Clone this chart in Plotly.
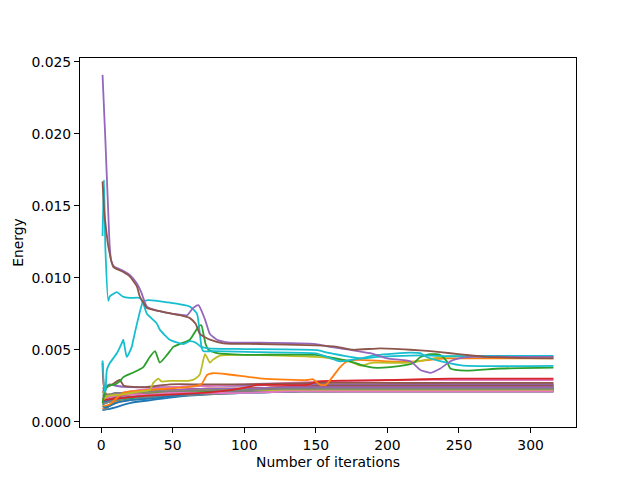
import plotly.graph_objects as go

# tab10 colours
BLUE, ORANGE, GREEN, RED, PURPLE = "#1f77b4", "#ff7f0e", "#2ca02c", "#d62728", "#9467bd"
BROWN, PINK, GRAY, OLIVE, CYAN = "#8c564b", "#e377c2", "#7f7f7f", "#bcbd22", "#17becf"

# ---- low band series (common iteration grid) ----
low_x = [1, 3, 6, 10, 20, 35, 50, 75, 100, 130, 160, 200, 250, 316]
blue1 = [0.0008, 0.00085, 0.0009, 0.0010, 0.0013, 0.0015, 0.0017, 0.0019, 0.0020, 0.0021, 0.0022, 0.0022, 0.0022, 0.0022]
blue2 = [0.0011, 0.0010, 0.0011, 0.0013, 0.0015, 0.0016, 0.0018, 0.0020, 0.0021, 0.0021, 0.0022, 0.0023, 0.0023, 0.0023]
blue3 = [0.0014, 0.0014, 0.0015, 0.0016, 0.0017, 0.0018, 0.0019, 0.0020, 0.0021, 0.0022, 0.0022, 0.0022, 0.0022, 0.0022]
orange2 = [0.0009, 0.0010, 0.0012, 0.0014, 0.0017, 0.0019, 0.0020, 0.0021, 0.0022, 0.0023, 0.0024, 0.0025, 0.0025, 0.0025]
orange3 = [0.0016, 0.0017, 0.0018, 0.0019, 0.0021, 0.0022, 0.0022, 0.0023, 0.0023, 0.0024, 0.0024, 0.0024, 0.0024, 0.0024]
green2 = [0.0012, 0.0013, 0.0014, 0.0015, 0.0016, 0.0018, 0.0019, 0.0020, 0.0021, 0.0021, 0.0022, 0.0022, 0.0022, 0.0022]
green3 = [0.0018, 0.0018, 0.0019, 0.0019, 0.0020, 0.0020, 0.0021, 0.0021, 0.0022, 0.0022, 0.0023, 0.0023, 0.0023, 0.0023]
red2 = [0.0013, 0.0014, 0.0015, 0.0016, 0.0018, 0.0020, 0.0021, 0.0022, 0.0023, 0.0024, 0.0025, 0.0026, 0.0026, 0.0026]
red3 = [0.0041, 0.0020, 0.0017, 0.0018, 0.0019, 0.0021, 0.0022, 0.0023, 0.0023, 0.0024, 0.0024, 0.0024, 0.0024, 0.0024]
purple2 = [0.0020, 0.0024, 0.0026, 0.0025, 0.0024, 0.0024, 0.0024, 0.0025, 0.0025, 0.0026, 0.0026, 0.0026, 0.0026, 0.0026]
purple3 = [0.0016, 0.0017, 0.0018, 0.0019, 0.0020, 0.0021, 0.0022, 0.0023, 0.0023, 0.0024, 0.0024, 0.0024, 0.0024, 0.0024]
brown3 = [0.0014, 0.0015, 0.0016, 0.0017, 0.0019, 0.0020, 0.0021, 0.0022, 0.0023, 0.0024, 0.0025, 0.0025, 0.0025, 0.0025]
pink1 = [0.0015, 0.0016, 0.0017, 0.0019, 0.0021, 0.0023, 0.0024, 0.0025, 0.0026, 0.0027, 0.0028, 0.0029, 0.0029, 0.0029]
pink2 = [0.0013, 0.0014, 0.0015, 0.0016, 0.0018, 0.0019, 0.0020, 0.0021, 0.0022, 0.0022, 0.0023, 0.0023, 0.0023, 0.0023]
pink3 = [0.0017, 0.0017, 0.0017, 0.0018, 0.0019, 0.0019, 0.0020, 0.0020, 0.0020, 0.0021, 0.0021, 0.0021, 0.0021, 0.0021]
gray1 = [0.0008, 0.0009, 0.0011, 0.0013, 0.0015, 0.0017, 0.0018, 0.0019, 0.0020, 0.0021, 0.0021, 0.0022, 0.0022, 0.0022]
gray2 = [0.0019, 0.0019, 0.0019, 0.0020, 0.0020, 0.0021, 0.0021, 0.0022, 0.0022, 0.0023, 0.0023, 0.0023, 0.0023, 0.0023]
gray3 = [0.0012, 0.0013, 0.0014, 0.0015, 0.0017, 0.0018, 0.0019, 0.0020, 0.0021, 0.0021, 0.0021, 0.0021, 0.0021, 0.0021]
olive2 = [0.0016, 0.0016, 0.0017, 0.0018, 0.0019, 0.0020, 0.0021, 0.0022, 0.0022, 0.0022, 0.0023, 0.0023, 0.0023, 0.0023]
olive3 = [0.0021, 0.0019, 0.0018, 0.0019, 0.0020, 0.0021, 0.0021, 0.0022, 0.0022, 0.0022, 0.0022, 0.0022, 0.0022, 0.0022]
cyan3 = [0.0012, 0.0013, 0.0014, 0.0015, 0.0017, 0.0018, 0.0019, 0.0020, 0.0020, 0.0021, 0.0021, 0.0021, 0.0021, 0.0021]

# ---- distinct series (own iteration samples) ----
brown2_x = [1, 4, 8, 13, 16, 30, 48, 70, 100, 150, 316]
brown2_y = [0.0023, 0.0024, 0.0026, 0.0029, 0.0025, 0.0024, 0.0026, 0.0026, 0.0026, 0.0027, 0.0027]

red1_x = [1, 10, 30, 50, 70, 90, 104, 109, 144, 151, 172, 206, 244, 316]
red1_y = [0.0015, 0.0016, 0.0018, 0.0019, 0.0020, 0.0022, 0.00244, 0.00256, 0.00256, 0.0028, 0.00286, 0.0029, 0.0030, 0.0030]

orange1_x = [1, 6, 15, 20, 32, 45, 60, 70, 74, 78, 88, 113, 144, 148, 153, 157, 167, 172, 180, 200, 220, 240, 260, 316]
orange1_y = [0.0011, 0.0012, 0.0020, 0.0021, 0.0022, 0.0023, 0.0024, 0.0026, 0.00325, 0.00337, 0.0033, 0.0030, 0.0029, 0.00295,
             0.00256, 0.00256, 0.0038, 0.0042, 0.0043, 0.0042, 0.0042, 0.0044, 0.0044, 0.0044]

olive1_x = [1, 5, 15, 27, 34, 36.5, 40, 42.3, 48, 62, 66, 69, 72.6, 76, 78, 83, 100, 150, 160, 176, 181, 190, 216, 232, 244, 316]
olive1_y = [0.0015, 0.0018, 0.0019, 0.0021, 0.0022, 0.0027, 0.0030, 0.0028, 0.00284, 0.00285, 0.0030, 0.0033, 0.0047, 0.0041,
            0.0043, 0.0046, 0.00465, 0.0045, 0.0044, 0.0041, 0.0039, 0.0041, 0.0041, 0.0044, 0.00455, 0.0045]

green1_x = [1, 3, 5, 10, 13, 15.5, 22, 29.5, 34, 37.7, 41, 46, 50.5, 55, 62, 68, 70, 71.5, 73, 75, 81, 100, 150,
            169, 174, 183, 190, 202, 218, 223, 230, 237, 241.5, 244, 255, 279, 316]
green1_y = [0.0013, 0.0022, 0.0025, 0.0026, 0.0028, 0.0031, 0.0034, 0.0038, 0.0045, 0.0049, 0.0041, 0.00464, 0.0052,
            0.0054, 0.0057, 0.0066, 0.0067, 0.0061, 0.0054, 0.0050, 0.00476, 0.00465, 0.00464,
            0.0043, 0.0042, 0.0039, 0.00376, 0.0038, 0.00406, 0.0045, 0.0047, 0.00464, 0.0042, 0.0037, 0.00355, 0.0037, 0.00376]

cyanB_x = [1, 2, 3, 4, 6, 11, 14.4, 15.5, 17.9, 21.4, 22.5, 26, 29.3, 33, 46, 62, 67, 69, 70.3, 71.5, 78, 111, 150,
           158, 167, 181, 193, 216, 223, 227.5, 241.5, 253, 316]
cyanB_y = [0.00425, 0.0025, 0.0020, 0.0036, 0.00406, 0.00476, 0.00545, 0.0057, 0.0045, 0.0052, 0.0057, 0.0072, 0.00834,
           0.00845, 0.0083, 0.0080, 0.0075, 0.0061, 0.0051, 0.0049, 0.0049, 0.00483, 0.00475,
           0.0045, 0.0042, 0.0044, 0.00464, 0.0048, 0.00476, 0.0045, 0.0041, 0.0039, 0.00388]

cyanA_x = [1, 2, 3, 5, 6, 11, 15, 20, 27, 29.5, 32, 38.8, 41, 48, 57.5, 62, 66, 70, 75, 100, 151, 158, 169,
           174, 181, 193, 216, 230, 245, 260, 316]
cyanA_y = [0.0129, 0.0168, 0.0120, 0.0084, 0.0087, 0.0090, 0.0087, 0.0086, 0.0086, 0.0082, 0.0075, 0.00684, 0.0064,
           0.0057, 0.0054, 0.0056, 0.0055, 0.0052, 0.0051, 0.00505, 0.00497, 0.0048, 0.0046,
           0.0045, 0.0044, 0.0045, 0.0046, 0.0046, 0.00455, 0.00457, 0.00457]

purple1_x = [1, 3, 5, 6, 7, 9, 15, 20, 25, 28, 32, 40, 50, 60, 64, 68, 72.6, 76, 81, 90, 111, 150, 160, 174, 188,
             200, 216, 223, 230, 237, 244, 250, 260, 316]
purple1_y = [0.0241, 0.0195, 0.0145, 0.0122, 0.0112, 0.0108, 0.0105, 0.0102, 0.0096, 0.0090, 0.0080, 0.0077, 0.0075,
             0.0074, 0.00788, 0.0081, 0.0071, 0.0061, 0.0057, 0.0055, 0.0055, 0.0054, 0.0052, 0.0050, 0.00476,
             0.0044, 0.0042, 0.0036, 0.0034, 0.0037, 0.0042, 0.0044, 0.0045, 0.0045]

brown1_x = [1, 2, 3, 5, 8.5, 15.5, 20, 25, 27, 30, 32, 40, 50, 55, 62, 66, 69, 72, 76, 85.5, 110, 150, 165, 176,
            195, 216, 230, 244, 255, 270, 316]
brown1_y = [0.0167, 0.0148, 0.0138, 0.0122, 0.01076, 0.0104, 0.0101, 0.0094, 0.0087, 0.0082, 0.0079, 0.0077, 0.0075,
            0.0074, 0.0072, 0.0068, 0.0061, 0.0059, 0.0057, 0.00545, 0.0054, 0.0053, 0.0052, 0.0050,
            0.0051, 0.0050, 0.0049, 0.00476, 0.00464, 0.0045, 0.0044]

x_ticks = [0, 50, 100, 150, 200, 250, 300]
y_ticks = [0.000, 0.005, 0.010, 0.015, 0.020, 0.025]

low_series = [
    (blue1, BLUE), (orange2, ORANGE), (green2, GREEN), (red2, RED), (purple2, PURPLE),
    (brown3, BROWN), (pink2, PINK), (gray1, GRAY), (olive2, OLIVE), (cyan3, CYAN),
    (blue2, BLUE), (orange3, ORANGE), (green3, GREEN), (red3, RED), (purple3, PURPLE),
    (blue3, BLUE), (gray3, GRAY), (olive3, OLIVE), (pink1, PINK), (gray2, GRAY), (pink3, PINK),
]
own_series = [
    (brown2_x, brown2_y, BROWN), (red1_x, red1_y, RED), (orange1_x, orange1_y, ORANGE),
    (olive1_x, olive1_y, OLIVE), (green1_x, green1_y, GREEN), (cyanB_x, cyanB_y, CYAN),
    (cyanA_x, cyanA_y, CYAN), (purple1_x, purple1_y, PURPLE), (brown1_x, brown1_y, BROWN),
]

fig = go.Figure()
for ys, col in low_series:
    fig.add_trace(go.Scatter(x=low_x, y=ys, mode="lines", line=dict(color=col, width=1.8),
                             line_shape="spline", showlegend=False, hoverinfo="skip"))
for xs, ys, col in own_series:
    fig.add_trace(go.Scatter(x=xs, y=ys, mode="lines",
                             line=dict(color=col, width=1.8, shape="spline", smoothing=0.5),
                             showlegend=False, hoverinfo="skip"))

axis_common = dict(showline=True, linecolor="black", linewidth=1, mirror=True, ticks="outside",
                   ticklen=5, tickwidth=1, tickcolor="black", showgrid=False, zeroline=False,
                   tickfont=dict(family="DejaVu Sans", size=13.9, color="black"))
fig.update_layout(
    width=640, height=480, paper_bgcolor="white", plot_bgcolor="white",
    margin=dict(l=80, r=64, t=58, b=53, autoexpand=False),
    showlegend=False,
    xaxis=dict(range=[-14.75, 331.75], tickvals=x_ticks, ticktext=[str(v) for v in x_ticks],
               title=dict(text="Number of iterations", standoff=5,
                          font=dict(family="DejaVu Sans", size=13.9, color="black")), **axis_common),
    yaxis=dict(range=[-0.000365, 0.02527], tickvals=y_ticks, ticktext=[f"{v:.3f}" for v in y_ticks],
               title=dict(text="Energy", standoff=4,
                          font=dict(family="DejaVu Sans", size=13.9, color="black")), **axis_common),
)
fig.write_html("out.html", config={"displayModeBar": False},
               post_script="document.body.style.margin='0';")
